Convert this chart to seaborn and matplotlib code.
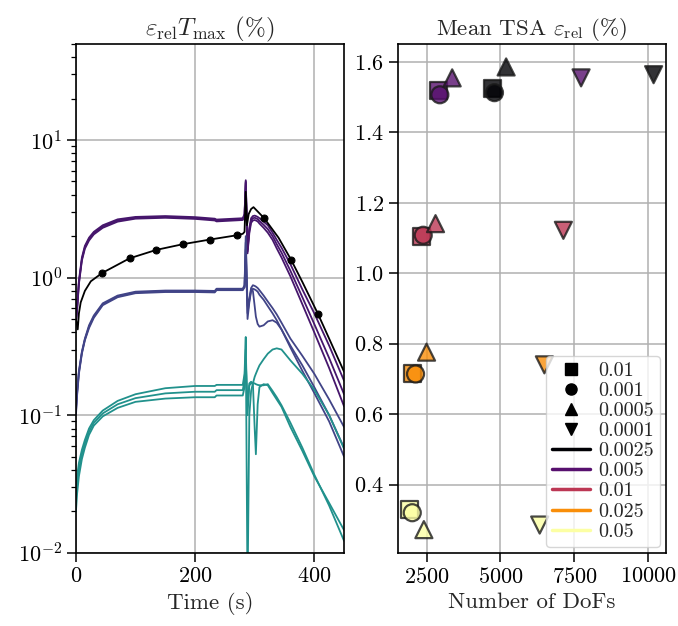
import numpy as np
import pandas as pd
import matplotlib
matplotlib.use("Agg")
import matplotlib.pyplot as plt
from matplotlib.lines import Line2D
from matplotlib.ticker import MultipleLocator
import seaborn as sns

# ---- left panel: error in T_max over time ----
t = [0, 2, 5, 10, 15, 22, 30, 45, 70, 100, 150, 200, 233, 236, 280, 283, 285, 288,
     291, 294, 297, 300, 302, 305, 308, 315, 322, 330, 337, 345, 360, 380, 400, 425, 450]

purple_1 = [0.50, 0.62, 0.95, 1.40, 1.70, 1.95, 2.15, 2.40, 2.65, 2.76, 2.80, 2.75, 2.68, 2.64, 2.70, 2.90, 5.10, 1.60,
            2.30, 2.70, 2.80, 2.82, 2.80, 2.76, 2.70, 2.55, 2.40, 2.12, 1.88, 1.65, 1.25, 0.82, 0.55, 0.32, 0.178]
purple_2 = [0.48, 0.60, 0.92, 1.36, 1.66, 1.90, 2.10, 2.35, 2.60, 2.72, 2.76, 2.71, 2.64, 2.60, 2.66, 2.85, 5.00, 1.55,
            2.20, 2.60, 2.70, 2.72, 2.70, 2.66, 2.58, 2.42, 2.25, 2.00, 1.75, 1.52, 1.12, 0.72, 0.46, 0.26, 0.142]
purple_3 = [0.46, 0.58, 0.90, 1.33, 1.62, 1.86, 2.06, 2.30, 2.55, 2.68, 2.72, 2.67, 2.60, 2.56, 2.62, 2.80, 4.90, 1.50,
            2.10, 2.50, 2.60, 2.62, 2.60, 2.56, 2.47, 2.30, 2.12, 1.88, 1.63, 1.40, 1.02, 0.64, 0.40, 0.22, 0.116]

blue_1 = [0.11, 0.15, 0.21, 0.29, 0.36, 0.45, 0.53, 0.65, 0.74, 0.79, 0.805, 0.805, 0.80, 0.83, 0.83, 0.88, 2.00, 0.62,
          0.70, 0.84, 0.88, 0.87, 0.86, 0.84, 0.81, 0.74, 0.67, 0.60, 0.54, 0.47, 0.36, 0.27, 0.20, 0.13, 0.082]
blue_2 = [0.105, 0.145, 0.205, 0.285, 0.355, 0.44, 0.52, 0.64, 0.73, 0.78, 0.795, 0.795, 0.79, 0.82, 0.82, 0.86, 1.80, 0.55,
          0.68, 0.82, 0.80, 0.62, 0.52, 0.46, 0.44, 0.45, 0.48, 0.49, 0.47, 0.42, 0.32, 0.23, 0.16, 0.10, 0.058]
blue_3 = [0.10, 0.14, 0.20, 0.28, 0.35, 0.43, 0.51, 0.63, 0.72, 0.77, 0.785, 0.785, 0.78, 0.81, 0.81, 0.85, 1.60, 0.50,
          0.66, 0.80, 0.83, 0.82, 0.81, 0.79, 0.75, 0.69, 0.62, 0.55, 0.49, 0.42, 0.31, 0.21, 0.145, 0.09, 0.05]

teal_1 = [0.030, 0.036, 0.045, 0.056, 0.066, 0.080, 0.092, 0.108, 0.127, 0.142, 0.157, 0.163, 0.163, 0.166, 0.166, 0.20, 0.37, 0.005,
          0.10, 0.15, 0.17, 0.19, 0.20, 0.215, 0.23, 0.255, 0.28, 0.30, 0.306, 0.30, 0.25, 0.20, 0.153, 0.10, 0.057]
teal_2 = [0.025, 0.031, 0.040, 0.052, 0.062, 0.076, 0.088, 0.103, 0.120, 0.133, 0.144, 0.148, 0.148, 0.152, 0.152, 0.18, 0.30, 0.10,
          0.17, 0.175, 0.17, 0.08, 0.052, 0.12, 0.16, 0.168, 0.165, 0.145, 0.13, 0.115, 0.082, 0.055, 0.036, 0.023, 0.0146]
teal_3 = [0.020, 0.027, 0.036, 0.048, 0.058, 0.072, 0.084, 0.098, 0.113, 0.125, 0.132, 0.135, 0.135, 0.139, 0.139, 0.16, 0.25, 0.12,
          0.165, 0.17, 0.172, 0.17, 0.168, 0.166, 0.165, 0.165, 0.168, 0.15, 0.135, 0.118, 0.088, 0.058, 0.037, 0.022, 0.0122]

# reference solution (black with dots)
t_ref = [0, 3, 5, 8, 15, 25, 44, 90, 135, 180, 225, 270, 280, 283, 285, 287, 290, 294, 298, 316, 340, 361, 380, 406, 425, 450]
ref = [0.50, 0.42, 0.55, 0.66, 0.80, 0.94, 1.08, 1.38, 1.59, 1.75, 1.89, 2.03, 2.08, 2.15, 4.2, 2.4, 2.9, 3.15, 3.25,
       2.70, 1.95, 1.35, 0.93, 0.547, 0.36, 0.207]
ref_dots = [44, 90, 135, 180, 225, 270, 316, 361, 406]

# ---- right panel: mean TSA error vs DoFs ----
dts = [0.0025, 0.005, 0.01, 0.025, 0.05]
tols = [0.01, 0.001, 0.0005, 0.0001]
dofs = {
    0.01:   [4720, 2895, 2331, 2017, 1936],
    0.001:  [4797, 2950, 2388, 2128, 2017],
    0.0005: [5192, 3367, 2804, 2500, 2410],
    0.0001: [10180, 7727, 7128, 6486, 6327],
}
tsa = {
    0.01:   [1.524, 1.519, 1.104, 0.714, 0.329],
    0.001:  [1.513, 1.507, 1.108, 0.714, 0.320],
    0.0005: [1.586, 1.555, 1.141, 0.776, 0.272],
    0.0001: [1.564, 1.555, 1.122, 0.740, 0.285],
}

sns.set_style("ticks", {"axes.grid": True})
plt.rcParams.update({
    "font.family": "serif",
    "font.serif": ["cmr10", "DejaVu Serif"],
    "mathtext.fontset": "cm",
    "axes.formatter.use_mathtext": True,
    "axes.unicode_minus": False,
    "font.size": 16.5,
    "xtick.labelsize": 16,
    "ytick.labelsize": 16,
    "axes.edgecolor": "black",
    "axes.linewidth": 1.2,
    "grid.color": "#b0b0b0",
    "grid.linewidth": 1.1,
    "xtick.color": "black",
    "ytick.color": "black",
    "xtick.major.size": 6.5,
    "ytick.major.size": 6.5,
    "xtick.minor.size": 3.5,
    "ytick.minor.size": 3.5,
    "xtick.major.width": 1.1,
    "ytick.major.width": 1.1,
    "ytick.minor.width": 0.9,
})

fig, (ax1, ax2) = plt.subplots(1, 2, figsize=(6.78, 6.26), dpi=100)
fig.subplots_adjust(left=0.112, right=0.982, bottom=0.117, top=0.930, wspace=0.2)

rows = []
for name, grp, vals in [("p1", "purple", purple_1), ("p2", "purple", purple_2), ("p3", "purple", purple_3),
                        ("b1", "blue", blue_1), ("b2", "blue", blue_2), ("b3", "blue", blue_3),
                        ("c1", "teal", teal_1), ("c2", "teal", teal_2), ("c3", "teal", teal_3)]:
    for ti, vi in zip(t, vals):
        rows.append({"time": ti, "err": vi, "run": name, "group": grp})
lines_df = pd.DataFrame(rows)

ax1.set_yscale("log")
sns.lineplot(data=lines_df, x="time", y="err", hue="group", units="run", estimator=None,
             palette={"purple": "#46166c", "blue": "#414487", "teal": "#21918c"},
             lw=1.3, legend=False, ax=ax1)
dot_idx = [t_ref.index(d) for d in ref_dots]
sns.lineplot(x=t_ref, y=ref, color="k", lw=1.3, marker="o", markersize=5,
             markevery=dot_idx, mec="k", ax=ax1)
ax1.set_xlim(0, 450)
ax1.set_ylim(1e-2, 50)
ax1.set_xlabel("Time (s)")
ax1.set_ylabel("")
ax1.set_title(r"$\varepsilon_{\rm rel}T_{\max}$ (%)", fontsize=18)
ax1.grid(True, which="major")
ax1.grid(False, which="minor")

# scatter
palette = dict(zip(dts, plt.cm.inferno(np.linspace(0, 1, len(dts)))))
markers = {0.01: "s", 0.001: "o", 0.0005: "^", 0.0001: "v"}
srows = []
for tol in tols:
    for dt, x, y in zip(dts, dofs[tol], tsa[tol]):
        srows.append({"dofs": x, "tsa": y, "dt": dt, "tol": tol})
sc_df = pd.DataFrame(srows)
sns.scatterplot(data=sc_df, x="dofs", y="tsa", hue="dt", style="tol", palette=palette,
                markers=markers, s=150, alpha=0.8, edgecolor="#1a1a1a", linewidth=1.6,
                legend=False, ax=ax2)
ax2.xaxis.set_major_locator(MultipleLocator(2500))
ax2.set_xlabel("Number of DoFs")
ax2.set_ylabel("")
ax2.set_title(r"Mean TSA $\varepsilon_{\rm rel}$ (%)", fontsize=16.5)

handles = [Line2D([], [], marker=markers[tol], color="k", ls="None", markersize=8) for tol in tols]
handles += [Line2D([], [], color=palette[dt], lw=2.5) for dt in dts]
labels = [str(tol) for tol in tols] + [str(dt) for dt in dts]
ax2.legend(handles, labels, loc="lower right", fontsize=14.5, labelspacing=0.1,
           handlelength=1.9, handletextpad=0.4, borderpad=0.3, borderaxespad=0.3)

for ax in (ax1, ax2):
    for sp in ax.spines.values():
        sp.set_color("black")

fig.savefig("out.png", dpi=100)
